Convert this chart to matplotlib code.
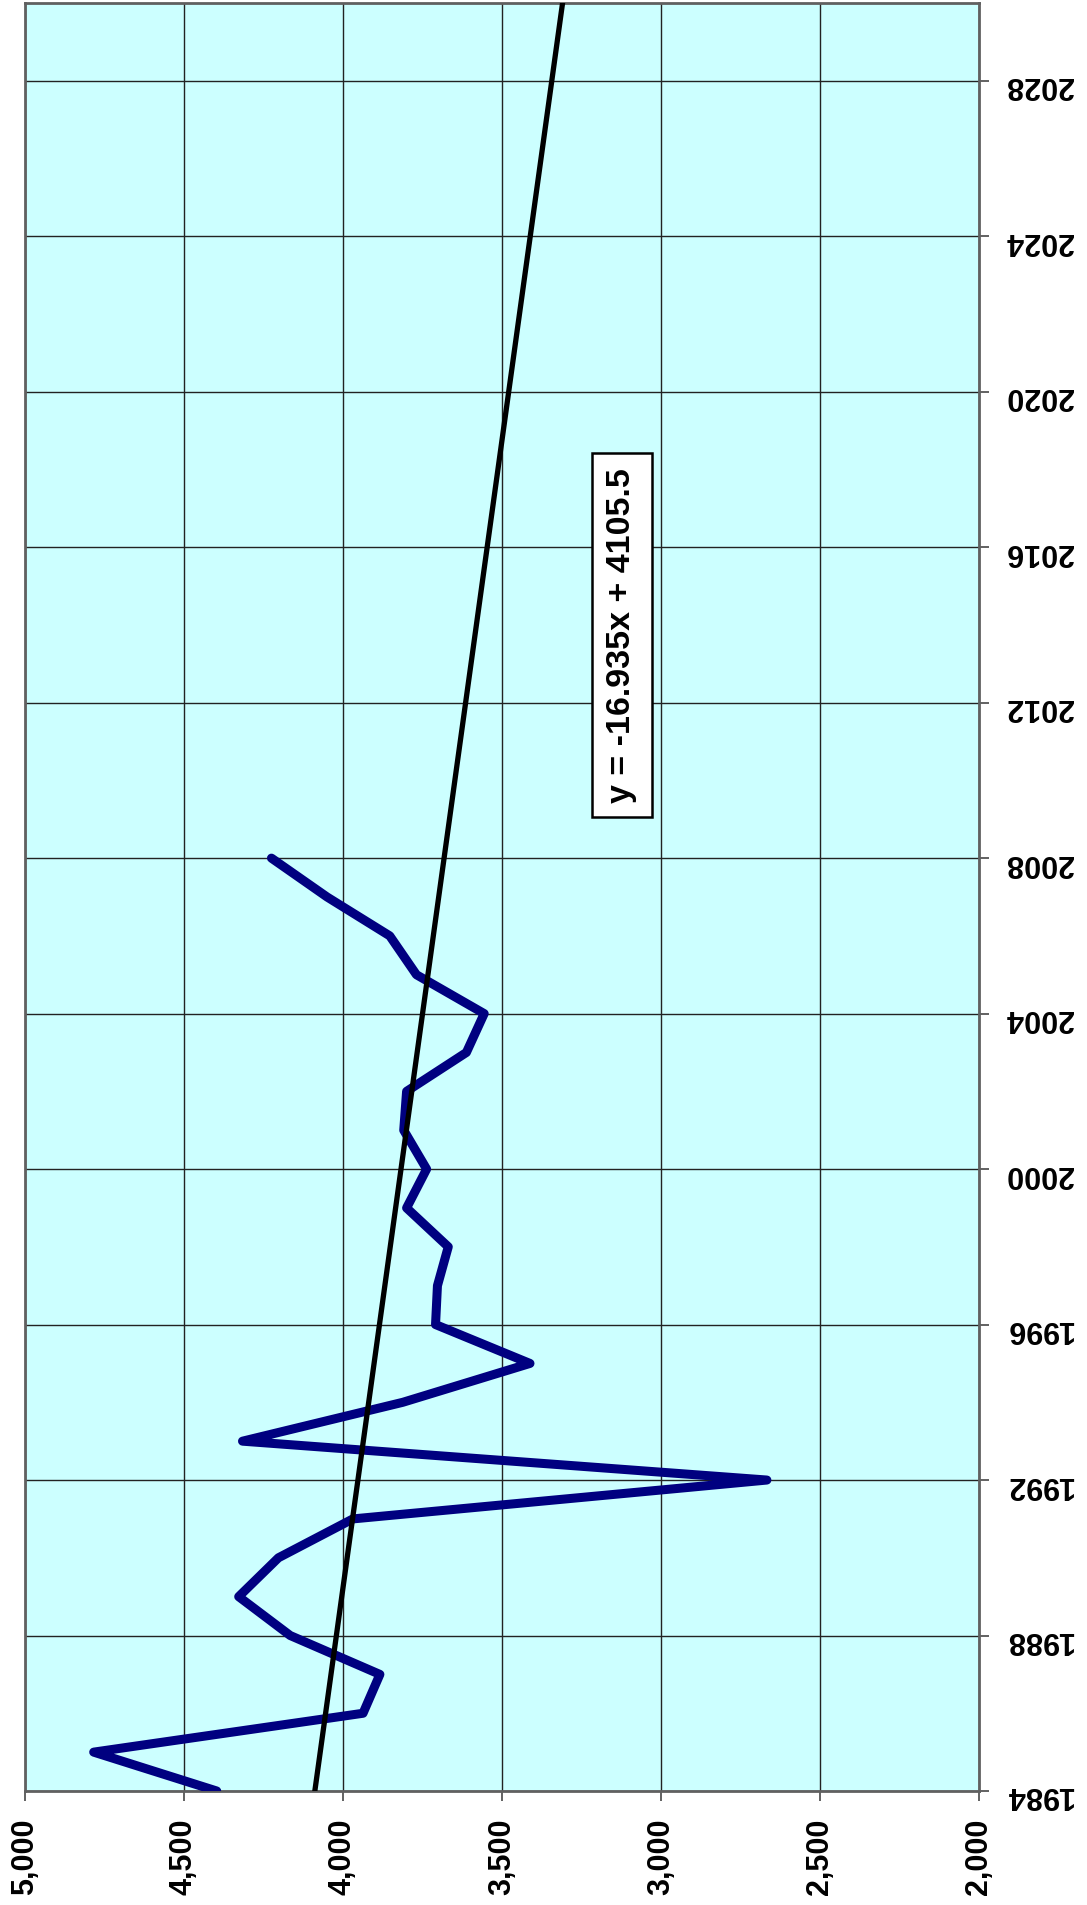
import matplotlib.pyplot as plt
import numpy as np

# values (chart is drawn turned on its side)
years = [1984, 1985, 1986, 1987, 1988, 1989, 1990, 1991, 1992, 1993,
         1994, 1995, 1996, 1997, 1998, 1999, 2000, 2001, 2002, 2003,
         2004, 2005, 2006, 2007, 2008]
values = [4397, 4784, 3937, 3884, 4166, 4328, 4203, 3969, 2667, 4316,
          3812, 3412, 3709, 3703, 3669, 3800, 3737, 3809, 3800, 3612,
          3556, 3769, 3853, 4050, 4225]

# linear trend as printed on the chart, x = 1 for 1984
trend_slope = -16.935
trend_intercept = 4105.5
trend_label = "y = -16.935x + 4105.5"
trend_years = list(range(1984, 2031))

year_ticks = list(range(1984, 2029, 4))
value_ticks = [2000, 2500, 3000, 3500, 4000, 4500, 5000]

plt.rcParams['font.family'] = ['Liberation Sans', 'DejaVu Sans']

fig = plt.figure(figsize=(10.87, 19.06), dpi=100)
W, H = 1087, 1906
ax = fig.add_axes([25 / W, (H - 1792) / H, 954 / W, (1792 - 4) / H])
ax.set_facecolor('#CCFFFF')

# data line
ax.plot(values, years, color='#000080', lw=6.5,
        solid_capstyle='round', solid_joinstyle='round', zorder=3)

# trend line
tx = np.array(trend_years) - 1983
ty = trend_slope * tx + trend_intercept
ax.plot(ty, trend_years, color='black', lw=3.8, zorder=4)

ax.set_xlim(5000, 2000)
ax.set_ylim(1984, 2030)

ax.set_xticks(value_ticks)
ax.set_xticklabels([f"{v:,}" for v in value_ticks], rotation=90,
                   fontsize=22, fontweight='bold')
ax.set_yticks(year_ticks)
ax.yaxis.tick_right()
ax.set_yticklabels([str(y) for y in year_ticks], rotation=180,
                   fontsize=22, fontweight='bold')
ax.tick_params(axis='both', direction='out', length=7, width=1.3,
               color='#555555', pad=12)

ax.grid(True, color='#222222', lw=1.0)
ax.set_axisbelow(True)
for s in ax.spines.values():
    s.set_color('#606060')
    s.set_linewidth(2)

ax.text(3123, 2013.74, trend_label, rotation=90, ha='center', va='center',
        fontsize=24.5, fontweight='bold', zorder=5,
        bbox=dict(boxstyle='square,pad=0.42', facecolor='white',
                  edgecolor='black', lw=1.8))

plt.savefig('out.png', dpi=100)
